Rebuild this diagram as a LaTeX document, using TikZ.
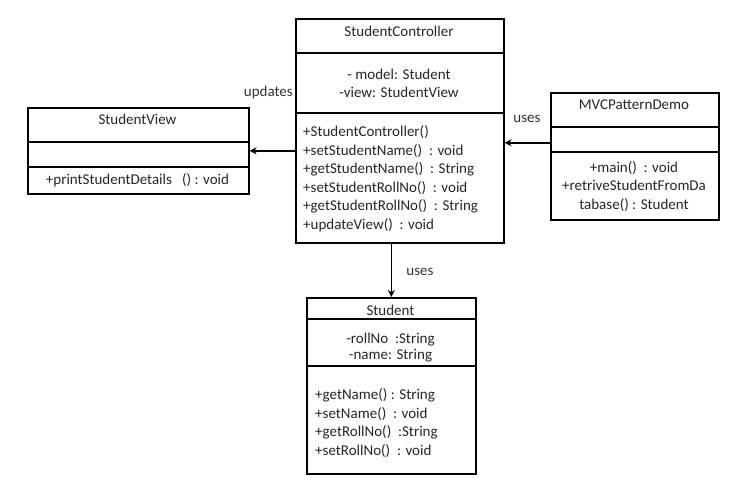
\documentclass[tikz,border=0pt]{standalone}
\usepackage{fontspec}
\setmainfont{Carlito}
\usetikzlibrary{arrows.meta}
\begin{document}
\begin{tikzpicture}[x=1pt,y=-1pt,
  classbox/.style={draw=black, line width=1.6pt, fill=white, anchor=north west, inner sep=0pt},
  sepline/.style={line width=1.4pt},
  txt/.style={font=\fontsize{15}{18}\selectfont, text=black!85, inner sep=0pt, anchor=base},
  txtl/.style={txt, anchor=base west},
  link/.style={line width=1.6pt, -{Stealth[length=7pt,width=7pt]}},
  lbl/.style={font=\fontsize{15}{18}\selectfont, text=black!80, inner sep=0pt, anchor=base}]
\useasboundingbox[fill=white] (0,0) rectangle (755,494);

% StudentController
\node[classbox, minimum width=208pt, minimum height=224pt] (ctrl) at (295,18) {};
\draw[sepline] (295,53) -- (503,53);
\draw[sepline] (295,113) -- (503,113);
\node[txt] (ctrlname) at (399,36.5) {StudentController};
\node[txt] (ctrla1) at (399,79.5) {- model: Student};
\node[txt] (ctrla2) at (399,97.5) {-view: StudentView};
\foreach \t [count=\i] in {+StudentController(),
    +setStudentName()\ \ : void,
    +getStudentName()\ \ : String,
    +setStudentRollNo()\ \ : void,
    +getStudentRollNo()\ \ : String,
    +updateView()\ \ : void}
  \node[txtl] (ctrlm\i) at (303,{136.5+18.6*(\i-1)}) {\t};

% StudentView
\node[classbox, minimum width=221pt, minimum height=86pt] (view) at (27,107) {};
\draw[sepline] (27,142) -- (248,142);
\draw[sepline] (27,167) -- (248,167);
\node[txt] (viewname) at (137.5,124.5) {StudentView};
\node[txt] (viewm1) at (137.5,184.5) {+printStudentDetails\ \ \ () : void};

% MVCPatternDemo
\node[classbox, minimum width=168pt, minimum height=127pt] (demo) at (550,92) {};
\draw[sepline] (550,127) -- (718,127);
\draw[sepline] (550,152) -- (718,152);
\node[txt] (demoname) at (634,109.5) {MVCPatternDemo};
\node[txt] (demom1) at (634,172.5) {+main()\ \ : void};
\node[txt] (demom2) at (634,190.8) {+retriveStudentFromDa};
\node[txt] (demom3) at (634,209.4) {tabase() : Student};

% Student
\node[classbox, minimum width=169pt, minimum height=176pt] (student) at (306,297) {};
\draw[sepline] (306,319) -- (475,319);
\draw[sepline] (306,366) -- (475,366);
\node[txt] (stname) at (390.5,315.5) {Student};
\node[txt] (sta1) at (390.5,343.5) {-rollNo\ \ :String};
\node[txt] (sta2) at (390.5,359.5) {-name: String};
\foreach \t [count=\i] in {+getName() : String,
    +setName()\ \ : void,
    +getRollNo()\ \ :String,
    +setRollNo()\ \ : void}
  \node[txtl] (stm\i) at (315,{399.5+18.6*(\i-1)}) {\t};

% Associations
\draw[link] (ctrl.west |- view.east) -- (view.east);
\draw[link] ([yshift=13.5pt]demo.west) -- ([yshift=13.5pt]demo.west -| ctrl.east);
\draw[link] (ctrl.south -| student.north) -- (student.north);

\node[lbl, anchor=base east] (lupdates) at (293,97) {updates};
\node[lbl] (lusesr) at (527,123) {uses};
\node[lbl] (lusesb) at (420,276) {uses};
\end{tikzpicture}
\end{document}
